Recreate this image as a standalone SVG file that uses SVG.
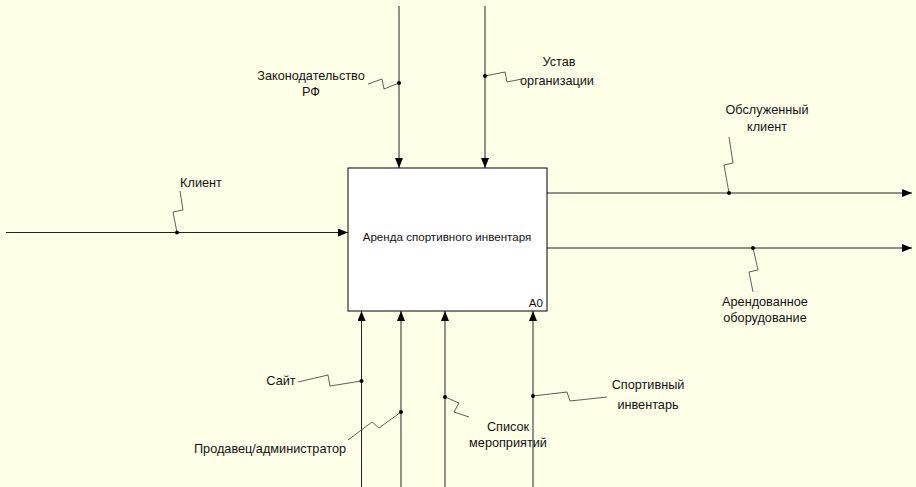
<svg xmlns="http://www.w3.org/2000/svg" width="916" height="487" viewBox="0 0 916 487">
<defs>
<marker id="ah" viewBox="0 0 10 8" refX="10" refY="4" markerWidth="10" markerHeight="8" markerUnits="userSpaceOnUse" orient="auto">
<path d="M0,0 L10,4 L0,8 Z" fill="#000"/>
</marker>
</defs>
<style>
.arr{fill:none;stroke:#222;stroke-width:1;marker-end:url(#ah)}
.sq{fill:none;stroke:#333;stroke-width:0.8}
.dot{fill:#000}
text{font-family:"Liberation Sans",Arial,sans-serif;font-size:12.7px;fill:#111;text-anchor:middle}
.box{fill:#fff;stroke:#000;stroke-width:1}
</style>
<rect width="916" height="487" fill="#FFFFE8"/>
<g id="connectors">
<path class="arr" d="M399,6 V168"/>
<path class="arr" d="M485,6 V168"/>
<path class="arr" d="M6,232.5 H348"/>
<path class="arr" d="M547,193 H912"/>
<path class="arr" d="M547,248 H912"/>
<path class="arr" d="M361.5,487 V311"/>
<path class="arr" d="M401,487 V311"/>
<path class="arr" d="M445,487 V311"/>
<path class="arr" d="M533,487 V311"/>
<path class="sq" d="M368,84 L382,79 L384,89 L399,83"/>
<circle class="dot" cx="399" cy="83" r="2"/>
<path class="sq" d="M485,76 L505,72 L507,82 L522,79"/>
<circle class="dot" cx="485" cy="76" r="2"/>
<path class="sq" d="M177,232.5 L173,212 L183,210 L180,191"/>
<circle class="dot" cx="177" cy="232.5" r="2"/>
<path class="sq" d="M729,193 L724,165 L733,163 L729,137"/>
<circle class="dot" cx="729" cy="193" r="2"/>
<path class="sq" d="M753,248 L758,270 L749,272 L753,292"/>
<circle class="dot" cx="753" cy="248" r="2"/>
<path class="sq" d="M298,382 L328,375 L330,386 L361.5,381"/>
<circle class="dot" cx="361.5" cy="381" r="2"/>
<path class="sq" d="M348,440 L372,422 L379,428 L401,412"/>
<circle class="dot" cx="401" cy="412" r="2"/>
<path class="sq" d="M445,397 L459,403 L454,412 L469,417"/>
<circle class="dot" cx="445" cy="397" r="2"/>
<path class="sq" d="M533,396 L567,392 L570,401 L607,397"/>
<circle class="dot" cx="533" cy="396" r="2"/>
</g>
<g id="node-A0">
<rect class="box" x="348" y="168" width="199" height="143"/>
<text x="447" y="241" style="font-size:11.6px">Аренда спортивного инвентаря</text>
<text x="543" y="307" style="font-size:11.6px;text-anchor:end">A0</text>
</g>
<g id="label-zakon"><text x="311" y="80">Законодательство</text><text x="311" y="96">РФ</text></g>
<g id="label-ustav"><text x="559" y="66">Устав</text><text x="557" y="85">организации</text></g>
<g id="label-klient"><text x="201" y="187">Клиент</text></g>
<g id="label-obsl"><text x="767" y="114">Обслуженный</text><text x="767" y="131">клиент</text></g>
<g id="label-arend"><text x="765" y="306">Арендованное</text><text x="765" y="322">оборудование</text></g>
<g id="label-sait"><text x="281" y="385">Сайт</text></g>
<g id="label-prod"><text x="270" y="453">Продавец/администратор</text></g>
<g id="label-spisok"><text x="508" y="431">Список</text><text x="508" y="447">мероприятий</text></g>
<g id="label-sport"><text x="648" y="389">Спортивный</text><text x="648" y="409">инвентарь</text></g>
</svg>
